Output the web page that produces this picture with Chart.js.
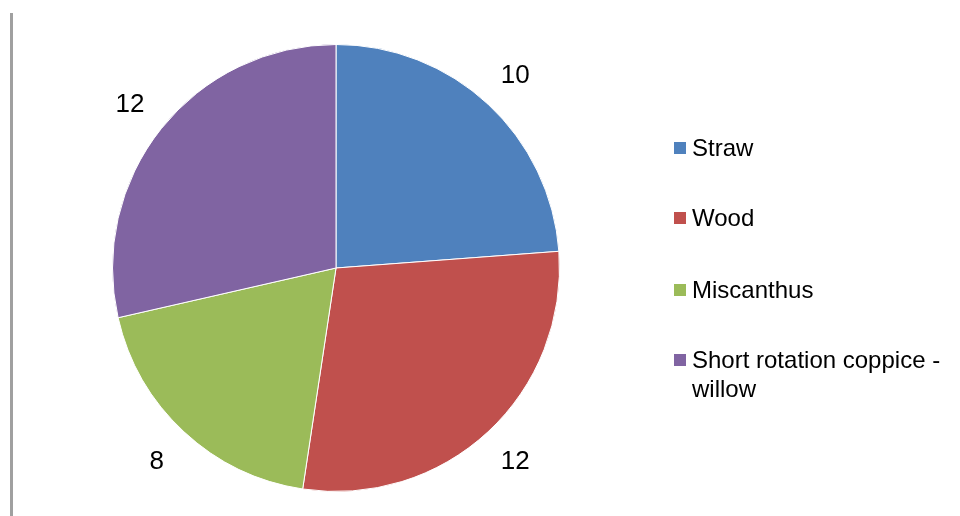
<!DOCTYPE html>
<html>
<head>
<meta charset="utf-8">
<script src="https://cdn.jsdelivr.net/npm/chart.js@4"></script>
<style>
  html, body { margin: 0; padding: 0; background: #fff; }
  #wrap { width: 960px; height: 516px; position: relative; }
</style>
</head>
<body>
<div id="wrap"><canvas id="pie"></canvas></div>
<script>
var categories = ['Straw', 'Wood', 'Miscanthus', 'Short rotation coppice - willow'];
var legendLines = [['Straw'], ['Wood'], ['Miscanthus'], ['Short rotation coppice -', 'willow']];
var values = [10, 12, 8, 12];
var colors = ['#4F81BD', '#C0504D', '#9BBB59', '#8064A2'];

// value labels outside the slices, left border line, and the legend
var extras = {
  id: 'extras',
  afterDraw: function(chart) {
    var ctx = chart.ctx;
    ctx.save();

    // grey frame line at the left
    ctx.strokeStyle = '#a0a0a0';
    ctx.lineWidth = 3;
    ctx.beginPath();
    ctx.moveTo(11.5, 13);
    ctx.lineTo(11.5, 516);
    ctx.stroke();

    // values
    ctx.fillStyle = '#000';
    ctx.font = '26px "Liberation Sans", Arial, sans-serif';
    ctx.textAlign = 'center';
    ctx.textBaseline = 'middle';
    var meta = chart.getDatasetMeta(0);
    meta.data.forEach(function(arc, i) {
      var mid = (arc.startAngle + arc.endAngle) / 2;
      var r = arc.outerRadius + 40;
      ctx.fillText(String(values[i]), arc.x + Math.cos(mid) * r, arc.y + Math.sin(mid) * r + 1);
    });

    // legend
    ctx.font = '24px "Liberation Sans", Arial, sans-serif';
    ctx.textAlign = 'left';
    var ys = [148, 218, 290, 360];
    legendLines.forEach(function(lines, i) {
      ctx.fillStyle = colors[i];
      ctx.fillRect(674, ys[i] - 6, 12, 12);
      ctx.fillStyle = '#000';
      lines.forEach(function(t, j) {
        ctx.fillText(t, 692, ys[i] + 1 + j * 29);
      });
    });
    ctx.restore();
  }
};

new Chart(document.getElementById('pie'), {
  type: 'pie',
  data: {
    labels: categories,
    datasets: [{
      data: values,
      backgroundColor: colors,
      borderColor: '#ffffff',
      borderWidth: 1
    }]
  },
  options: {
    responsive: true,
    maintainAspectRatio: false,
    animation: false,
    layout: { padding: { left: 112, right: 400, top: 44, bottom: 24 } },
    plugins: {
      legend: { display: false },
      tooltip: { enabled: false }
    }
  },
  plugins: [extras]
});
</script>
</body>
</html>
